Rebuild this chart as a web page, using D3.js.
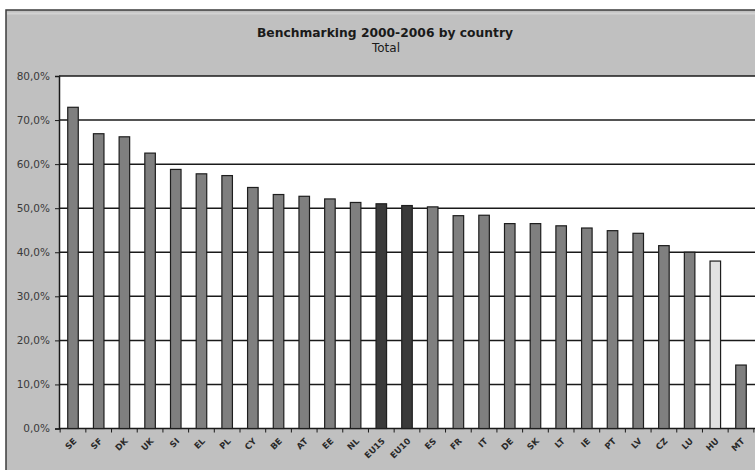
<!DOCTYPE html>
<html>
<head>
<meta charset="utf-8">
<script src="https://cdn.jsdelivr.net/npm/d3@7"></script>
<style>
  html, body { margin: 0; padding: 0; background: #fff; }
  svg { display: block; }
</style>
</head>
<body>
<svg id="chart" width="755" height="470"></svg>
<script>
// Country codes, in ranked order
const countries = ["SE","SF","DK","UK","SI","EL","PL","CY","BE","AT","EE","NL","EU15","EU10",
  "ES","FR","IT","DE","SK","LT","IE","PT","LV","CZ","LU","HU","MT"];
// Benchmarking score 2000-2006, total (%)
const totals = [72.9,66.9,66.2,62.5,58.8,57.8,57.4,54.7,53.1,52.7,52.1,51.3,51.0,50.6,
  50.3,48.3,48.4,46.5,46.5,46.0,45.5,44.9,44.3,41.5,40.0,38.0,14.4];
// Y axis ticks (%)
const yTicks = [0,10,20,30,40,50,60,70,80];

const title = "Benchmarking 2000-2006 by country";
const subtitle = "Total";

const svg = d3.select("#chart");
const W = 755, H = 470;
const plot = { left: 59, top: 76, right: 755, bottom: 428.5 };

const fmt = v => d3.format(".1f")(v).replace(".", ",") + "%";

// Chart frame
svg.append("rect")
  .attr("x", 6).attr("y", 10).attr("width", W + 10).attr("height", H)
  .attr("fill", "#c0c0c0").attr("stroke", "#3c3c3c").attr("stroke-width", 1.5);
svg.append("line")
  .attr("x1", 7).attr("x2", W).attr("y1", 13.5).attr("y2", 13.5)
  .attr("stroke", "#d2d2d2").attr("stroke-width", 2);

// Titles
svg.append("text")
  .attr("x", 385).attr("y", 37)
  .attr("text-anchor", "middle")
  .attr("font-family", "DejaVu Sans, Verdana, sans-serif")
  .attr("font-weight", "bold").attr("font-size", 12.3)
  .attr("fill", "#1a1a1a")
  .text(title);
svg.append("text")
  .attr("x", 386).attr("y", 51.5)
  .attr("text-anchor", "middle")
  .attr("font-family", "DejaVu Sans, Verdana, sans-serif")
  .attr("font-size", 12)
  .attr("fill", "#1a1a1a")
  .text(subtitle);

// Scales
const x = d3.scaleBand().domain(countries).range([plot.left, plot.right])
  .paddingInner(0.59).paddingOuter(0.34);
const y = d3.scaleLinear().domain([0, 80]).range([plot.bottom, plot.top]);

// Plot area
svg.append("rect")
  .attr("x", plot.left).attr("y", plot.top)
  .attr("width", plot.right - plot.left).attr("height", plot.bottom - plot.top)
  .attr("fill", "#ffffff");

// Gridlines
svg.append("g")
  .selectAll("line")
  .data(yTicks)
  .join("line")
  .attr("x1", plot.left).attr("x2", plot.right)
  .attr("y1", d => y(d)).attr("y2", d => y(d))
  .attr("stroke", "#1a1a1a").attr("stroke-width", 1.5);

// Bars
const barFill = d => d === "EU15" || d === "EU10" ? "#3a3a3a" : d === "HU" ? "#e2e2e2" : "#7f7f7f";
svg.append("g")
  .selectAll("rect")
  .data(countries.map((c, i) => ({ c, v: totals[i] })))
  .join("rect")
  .attr("x", d => x(d.c))
  .attr("y", d => y(d.v))
  .attr("width", x.bandwidth())
  .attr("height", d => y(0) - y(d.v))
  .attr("fill", d => barFill(d.c))
  .attr("stroke", "#1e1e1e").attr("stroke-width", 1.2);

// Y axis
const yAxis = d3.axisLeft(y).tickValues(yTicks).tickSize(4).tickPadding(5).tickFormat(fmt);
const gy = svg.append("g").attr("transform", `translate(${plot.left},0)`).call(yAxis);
gy.select(".domain").attr("stroke", "#1a1a1a").attr("stroke-width", 1.5);
gy.selectAll(".tick line").attr("stroke", "#1a1a1a");
gy.selectAll(".tick text")
  .attr("font-family", "DejaVu Sans, Verdana, sans-serif")
  .attr("font-size", 10.5).attr("fill", "#3a3a3a");

// X axis: ticks sit on category boundaries
const step = x.step();
const boundaries = d3.range(countries.length + 1).map(i => x(countries[0]) - (x.paddingInner() * step) / 2 + i * step);
svg.append("g")
  .selectAll("line")
  .data(boundaries.filter(b => b <= plot.right))
  .join("line")
  .attr("x1", d => d).attr("x2", d => d)
  .attr("y1", plot.bottom).attr("y2", plot.bottom + 4)
  .attr("stroke", "#1a1a1a");

svg.append("g")
  .selectAll("text")
  .data(countries)
  .join("text")
  .attr("transform", d => `translate(${x(d) + x.bandwidth() / 2 + 2},${plot.bottom + 11}) rotate(-45)`)
  .attr("text-anchor", "end")
  .attr("dy", "0.35em")
  .attr("font-family", "DejaVu Sans, Verdana, sans-serif")
  .attr("font-weight", "bold")
  .attr("font-size", 8.5)
  .attr("fill", "#2a2a2a")
  .text(d => d);
</script>
</body>
</html>
